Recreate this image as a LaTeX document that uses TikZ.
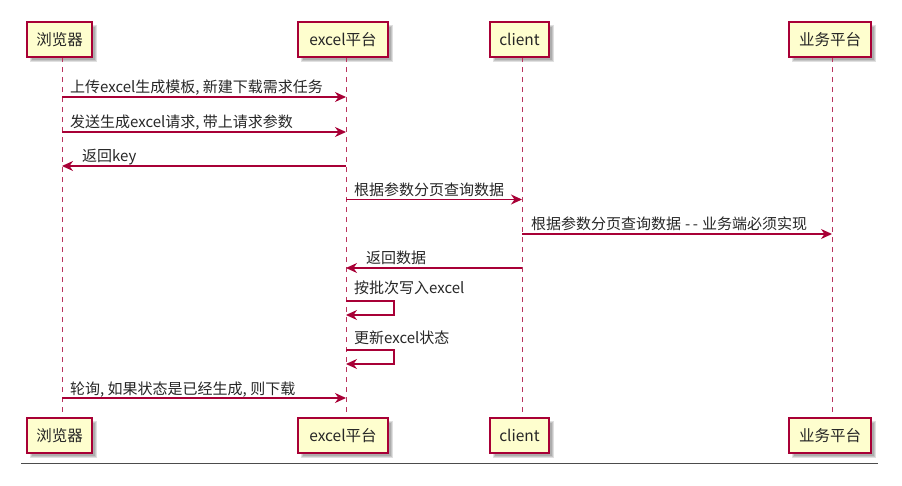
\documentclass[tikz,border=0pt]{standalone}
\usepackage{fontspec}
\setmainfont{Noto Sans CJK SC}
\usetikzlibrary{arrows.meta}
\definecolor{pborder}{HTML}{A80036}
\definecolor{pfill}{HTML}{FEFECE}
\begin{document}
\begin{tikzpicture}[x=1pt,y=-1pt,
  part/.style={draw=pborder, fill=pfill, line width=1.3pt, inner sep=0pt,
    font=\fontsize{15.5}{18}\selectfont, text=black!85},
  shad/.style={fill=black, opacity=0.12, draw=none},
  life/.style={draw=pborder!80, line width=1pt, dash pattern=on 5pt off 5pt},
  msg/.style={draw=pborder, line width=1.2pt, -{Stealth[length=11pt,width=10pt,inset=3.5pt]}},
  lbl/.style={font=\fontsize{15}{18}\selectfont, inner sep=0pt, anchor=base west, text=black!85}]
\useasboundingbox (0,0) rectangle (902,486);

% shadows
\foreach \xa/\xb/\ya/\yb in {27/92/22/57, 298/388/22/57, 490/549/22/57, 789/871/22/57,
                             27/92/418/453, 298/388/418/453, 490/549/418/453, 789/871/418/453}{
  \fill[shad] (\xa+3,\ya+3) rectangle (\xb+5,\yb+5);
  \fill[shad] (\xa+4,\ya+4) rectangle (\xb+4,\yb+4);
  \fill[shad] (\xa+5,\ya+5) rectangle (\xb+3,\yb+3);
}

% lifelines
\coordinate (l1t) at (62,57);  \coordinate (l1b) at (62,418);
\coordinate (l2t) at (346,57); \coordinate (l2b) at (346,418);
\coordinate (l3t) at (522,57); \coordinate (l3b) at (522,418);
\coordinate (l4t) at (832,57); \coordinate (l4b) at (832,418);
\draw[life] (l1t) -- (l1b);
\draw[life] (l2t) -- (l2b);
\draw[life] (l3t) -- (l3b);
\draw[life] (l4t) -- (l4b);

% participants top
\node[part, minimum width=65pt, minimum height=35pt] (bt) at (59.5,39.5) {浏览器};
\node[part, minimum width=90pt, minimum height=35pt] (et) at (343,39.5) {excel平台};
\node[part, minimum width=59pt, minimum height=35pt] (ct) at (519.5,39.5) {client};
\node[part, minimum width=82pt, minimum height=35pt] (yt) at (830,39.5) {业务平台};
% participants bottom
\node[part, minimum width=65pt, minimum height=35pt] (bb) at (59.5,435.5) {浏览器};
\node[part, minimum width=90pt, minimum height=35pt] (eb) at (343,435.5) {excel平台};
\node[part, minimum width=59pt, minimum height=35pt] (cb) at (519.5,435.5) {client};
\node[part, minimum width=82pt, minimum height=35pt] (yb) at (830,435.5) {业务平台};

% message anchor points
\coordinate (m1a) at (62,97);   \coordinate (m1b) at (346,97);
\coordinate (m2a) at (62,132);  \coordinate (m2b) at (346,132);
\coordinate (m3a) at (346,166); \coordinate (m3b) at (62,166);
\coordinate (m4a) at (346,199.5); \coordinate (m4b) at (522,199.5);
\coordinate (m5a) at (522,234); \coordinate (m5b) at (832,234);
\coordinate (m6a) at (522,268); \coordinate (m6b) at (346,268);
\coordinate (m7a) at (346,301); \coordinate (m7b) at (346,315);
\coordinate (m8a) at (346,350); \coordinate (m8b) at (346,364);
\coordinate (m9a) at (62,398);  \coordinate (m9b) at (346,398);

\draw[msg] (m1a) -- (m1b);
\node[lbl] (t1) at (70,93) {上传excel生成模板, 新建下载需求任务};
\draw[msg] (m2a) -- (m2b);
\node[lbl] (t2) at (70,128) {发送生成excel请求, 带上请求参数};
\draw[msg] (m3a) -- (m3b);
\node[lbl] (t3) at (82,162) {返回key};
\draw[msg] (m4a) -- (m4b);
\node[lbl] (t4) at (354,195.5) {根据参数分页查询数据};
\draw[msg] (m5a) -- (m5b);
\node[lbl] (t5) at (531,230) {根据参数分页查询数据\hspace{4pt}{-}\hspace{2.5pt}{-}\hspace{4pt}业务端必须实现};
\draw[msg] (m6a) -- (m6b);
\node[lbl] (t6) at (366,264) {返回数据};
\draw[msg] (m7a) -- (394,301) -- (394,315) -- (m7b);
\node[lbl] (t7) at (354,294) {按批次写入excel};
\draw[msg] (m8a) -- (394,350) -- (394,364) -- (m8b);
\node[lbl] (t8) at (354,343) {更新excel状态};
\draw[msg] (m9a) -- (m9b);
\node[lbl] (t9) at (70,394) {轮询, 如果状态是已经生成, 则下载};

% bottom rule
\coordinate (r1) at (21,463.5); \coordinate (r2) at (878,463.5);
\draw[black!70, line width=1.3pt] (r1) -- (r2);
\end{tikzpicture}
\end{document}
